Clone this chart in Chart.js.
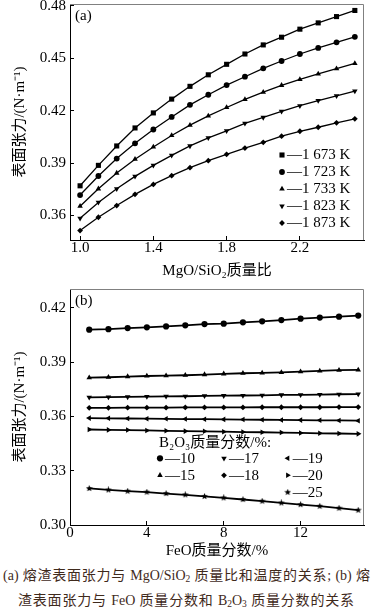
<!DOCTYPE html>
<html>
<head>
<meta charset="utf-8">
<script src="https://cdn.jsdelivr.net/npm/chart.js@4.4.1/dist/chart.umd.min.js"></script>
<style>
  html, body { margin: 0; padding: 0; background: #fff; }
  body { width: 376px; height: 609px; position: relative; overflow: hidden; }
  canvas { position: absolute; left: 0; }
  #chartA { top: 0; }
  #chartB { top: 280px; }
  .cap {
    position: absolute;
    font-family: "Liberation Serif", "Noto Sans CJK SC", serif;
    font-size: 14px;
    line-height: 18px;
    color: #3f2a1c;
    text-align: justify;
    text-align-last: justify;
  }
  .cap sub { font-size: 9.5px; vertical-align: -2px; line-height: 0; }
</style>
</head>
<body>
<canvas id="chartA" width="376" height="280"></canvas>
<canvas id="chartB" width="376" height="282"></canvas>
<div class="cap" style="left:3px; top:567px; width:367px;">(a) 熔渣表面张力与 MgO/SiO<sub>2</sub> 质量比和温度的关系; (b) 熔</div>
<div class="cap" style="left:18px; top:592px; width:336px;">渣表面张力与 FeO 质量分数和 B<sub>2</sub>O<sub>3</sub> 质量分数的关系</div>

<script>
// ---- chart (a): surface tension vs MgO/SiO2 ratio ----
const mgoRatio = [1.0, 1.1, 1.2, 1.3, 1.4, 1.5, 1.6, 1.7, 1.8, 1.9, 2.0, 2.1, 2.2, 2.3, 2.4, 2.5];
const tempLabels = ['1 673 K', '1 723 K', '1 733 K', '1 823 K', '1 873 K'];
const t1673 = [0.3770, 0.3887, 0.3998, 0.4101, 0.4187, 0.4266, 0.4339, 0.4405, 0.4465, 0.4524, 0.4576, 0.4620, 0.4666, 0.4702, 0.4738, 0.4773];
const t1723 = [0.3717, 0.3826, 0.3926, 0.4013, 0.4092, 0.4164, 0.4233, 0.4291, 0.4346, 0.4394, 0.4442, 0.4484, 0.4524, 0.4559, 0.4591, 0.4622];
const t1733 = [0.3653, 0.3753, 0.3843, 0.3922, 0.3992, 0.4058, 0.4117, 0.4170, 0.4218, 0.4264, 0.4306, 0.4345, 0.4379, 0.4410, 0.4440, 0.4470];
const t1823 = [0.3584, 0.3675, 0.3753, 0.3824, 0.3887, 0.3944, 0.3998, 0.4044, 0.4084, 0.4127, 0.4161, 0.4196, 0.4228, 0.4257, 0.4285, 0.4312];
const t1873 = [0.3514, 0.3590, 0.3657, 0.3721, 0.3778, 0.3828, 0.3874, 0.3914, 0.3950, 0.3986, 0.4019, 0.4054, 0.4082, 0.4105, 0.4130, 0.4153];
const ratioTicks = [1.0, 1.4, 1.8, 2.2];
const tensionTicksA = [0.36, 0.39, 0.42, 0.45, 0.48];

// ---- chart (b): surface tension vs FeO content ----
const feoContent = [1, 2, 3, 4, 5, 6, 7, 8, 9, 10, 11, 12, 13, 14, 15];
const b2o3Labels = ['10', '15', '17', '18', '19', '20', '25'];
const b10 = [0.4080, 0.4083, 0.4089, 0.4093, 0.4098, 0.4104, 0.4111, 0.4113, 0.4121, 0.4126, 0.4133, 0.4141, 0.4147, 0.4152, 0.4158];
const b15 = [0.3815, 0.3817, 0.3821, 0.3824, 0.3826, 0.3828, 0.3832, 0.3836, 0.3839, 0.3841, 0.3844, 0.3848, 0.3852, 0.3856, 0.3858];
const b17 = [0.3706, 0.3707, 0.3708, 0.3710, 0.3711, 0.3712, 0.3714, 0.3715, 0.3716, 0.3717, 0.3719, 0.3720, 0.3721, 0.3723, 0.3724];
const b18 = [0.3648, 0.3648, 0.3649, 0.3649, 0.3649, 0.3650, 0.3650, 0.3650, 0.3650, 0.3651, 0.3651, 0.3651, 0.3651, 0.3652, 0.3652];
const b19 = [0.3591, 0.3590, 0.3589, 0.3588, 0.3587, 0.3586, 0.3585, 0.3584, 0.3583, 0.3582, 0.3581, 0.3580, 0.3579, 0.3578, 0.3577];
const b20 = [0.3528, 0.3526, 0.3525, 0.3523, 0.3521, 0.3519, 0.3518, 0.3516, 0.3514, 0.3513, 0.3511, 0.3509, 0.3507, 0.3506, 0.3504];
const b25 = [0.3202, 0.3194, 0.3187, 0.3182, 0.3174, 0.3167, 0.3158, 0.3150, 0.3141, 0.3132, 0.3122, 0.3113, 0.3104, 0.3093, 0.3082];
const feoTicks = [0, 4, 8, 12];
const tensionTicksB = [0.30, 0.33, 0.36, 0.39, 0.42];

const FONT = '"Liberation Serif", "Noto Sans CJK SC", serif';
Chart.defaults.font.family = FONT;
Chart.defaults.font.size = 15;
Chart.defaults.color = '#000';

// small filled star used as a marker
function makeStar(size) {
  const c = document.createElement('canvas');
  c.width = size; c.height = size;
  const g = c.getContext('2d');
  const cx = size / 2, cy = size / 2, ro = size / 2, ri = ro * 0.45;
  g.beginPath();
  for (let i = 0; i < 10; i++) {
    const r = i % 2 ? ri : ro;
    const a = -Math.PI / 2 + i * Math.PI / 5;
    g.lineTo(cx + r * Math.cos(a), cy + r * Math.sin(a));
  }
  g.closePath();
  g.fillStyle = '#000';
  g.fill();
  return c;
}
const starMarker = makeStar(7);

function series(label, xs, ys, style, rotation, radius, width) {
  return {
    label: label,
    data: xs.map((x, i) => ({ x: x, y: ys[i] })),
    showLine: true,
    borderColor: '#000',
    backgroundColor: '#000',
    borderWidth: width,
    pointStyle: style,
    pointRotation: rotation,
    pointRadius: radius,
    pointBorderWidth: 0,
    pointBackgroundColor: '#000'
  };
}

// frame (top/right), panel letter and the inside legend
const decorPlugin = {
  id: 'decor',
  afterDatasetsDraw(chart, args, opts) {
    const ctx = chart.ctx;
    const a = chart.chartArea;
    ctx.save();
    ctx.strokeStyle = '#808080';
    ctx.lineWidth = 1;
    ctx.beginPath();
    ctx.moveTo(a.left, a.top + 0.5);
    ctx.lineTo(a.right - 0.5, a.top + 0.5);
    ctx.lineTo(a.right - 0.5, a.bottom);
    ctx.stroke();

    ctx.fillStyle = '#000';
    ctx.font = '15px ' + FONT;
    ctx.textBaseline = 'middle';
    ctx.textAlign = 'left';
    ctx.fillText(opts.panel, a.left + 5, a.top + 12);

    const lg = opts.legend;
    if (lg.title) {
      ctx.textAlign = 'center';
      ctx.fillText(lg.title, a.left + lg.titleX, a.top + lg.titleY);
      ctx.textAlign = 'left';
    }
    lg.columns.forEach((col, ci) => {
      col.forEach((di, ri) => {
        const ds = chart.data.datasets[di];
        const x = lg.fromRight ? a.right + lg.colX[ci] : a.left + lg.colX[ci];
        const y = lg.fromBottom ? a.bottom + lg.rowY + ri * lg.rowGap : a.top + lg.rowY + ri * lg.rowGap;
        Chart.helpers.drawPoint(ctx, {
          pointStyle: ds.pointStyle,
          rotation: ds.pointRotation,
          radius: ds.pointRadius,
          borderWidth: 0
        }, x, y);
        ctx.fillText('\u2014' + ds.label, x + 5, y + 0.5);
      });
    });
    ctx.restore();
  }
};

function tickGrid() {
  return { display: true, drawOnChartArea: false, drawTicks: true, tickLength: -4, color: '#000', lineWidth: 1 };
}

const chartA = new Chart(document.getElementById('chartA').getContext('2d'), {
  type: 'scatter',
  data: {
    datasets: [
      series(tempLabels[0], mgoRatio, t1673, 'rect', 0, 3.6, 1.3),
      series(tempLabels[1], mgoRatio, t1723, 'circle', 0, 2.9, 1.3),
      series(tempLabels[2], mgoRatio, t1733, 'triangle', 0, 3.2, 1.3),
      series(tempLabels[3], mgoRatio, t1823, 'triangle', 180, 3.2, 1.3),
      series(tempLabels[4], mgoRatio, t1873, 'rectRot', 0, 2.9, 1.3)
    ]
  },
  options: {
    responsive: false,
    animation: false,
    layout: { padding: { left: 0, right: 12, top: 0, bottom: 0 } },
    plugins: {
      legend: { display: false },
      tooltip: { enabled: false },
      decor: {
        panel: '(a)',
        legend: { columns: [[0, 1, 2, 3, 4]], colX: [-82], rowY: -85, rowGap: 17, fromRight: true, fromBottom: true }
      }
    },
    scales: {
      x: {
        type: 'linear', min: 0.945, max: 2.55,
        afterBuildTicks: s => { s.ticks = ratioTicks.map(v => ({ value: v })); },
        afterFit: s => { s.height = 40; },
        ticks: { padding: 3.5, maxRotation: 0, callback: v => v.toFixed(1) },
        grid: tickGrid(),
        border: { display: true, color: '#000', width: 1 },
        title: { display: true, text: 'MgO/SiO₂质量比', padding: { top: 0, bottom: 0 } }
      },
      y: {
        type: 'linear', min: 0.346, max: 0.481,
        afterBuildTicks: s => { s.ticks = tensionTicksA.map(v => ({ value: v })); },
        afterFit: s => { s.width = 70; s.paddingTop = 4; },
        ticks: { padding: 8, callback: v => v.toFixed(2) },
        grid: tickGrid(),
        border: { display: true, color: '#000', width: 1 },
        title: { display: true, text: '表面张力/(N·m⁻¹)', padding: { top: 11, bottom: 0 } }
      }
    }
  },
  plugins: [decorPlugin]
});

const chartB = new Chart(document.getElementById('chartB').getContext('2d'), {
  type: 'scatter',
  data: {
    datasets: [
      series(b2o3Labels[0], feoContent, b10, 'circle', 0, 3.1, 1.8),
      series(b2o3Labels[1], feoContent, b15, 'triangle', 0, 3.2, 1.8),
      series(b2o3Labels[2], feoContent, b17, 'triangle', 180, 3.2, 1.8),
      series(b2o3Labels[3], feoContent, b18, 'rectRot', 0, 2.9, 1.8),
      series(b2o3Labels[4], feoContent, b19, 'triangle', 270, 3.2, 1.8),
      series(b2o3Labels[5], feoContent, b20, 'triangle', 90, 3.2, 1.8),
      series(b2o3Labels[6], feoContent, b25, starMarker, 0, 3.5, 1.8)
    ]
  },
  options: {
    responsive: false,
    animation: false,
    layout: { padding: { left: 0, right: 12, top: 0, bottom: 0 } },
    plugins: {
      legend: { display: false },
      tooltip: { enabled: false },
      decor: {
        panel: '(b)',
        legend: {
          title: 'B₂O₃质量分数/%:', titleX: 145, titleY: 154,
          columns: [[0, 1], [2, 3], [4, 5, 6]], colX: [90, 154, 217.7], rowY: 169.3, rowGap: 17
        }
      }
    },
    scales: {
      x: {
        type: 'linear', min: 0, max: 15.3,
        afterBuildTicks: s => { s.ticks = feoTicks.map(v => ({ value: v })); },
        afterFit: s => { s.height = 37; },
        ticks: { padding: 3, maxRotation: 0, callback: v => String(v) },
        grid: tickGrid(),
        border: { display: true, color: '#000', width: 1 },
        title: { display: true, text: 'FeO质量分数/%', padding: { top: 0, bottom: 2 } }
      },
      y: {
        type: 'linear', min: 0.30, max: 0.4305,
        afterBuildTicks: s => { s.ticks = tensionTicksB.map(v => ({ value: v })); },
        afterFit: s => { s.width = 70; s.paddingTop = 9; },
        ticks: { padding: 8, callback: v => v.toFixed(2) },
        grid: tickGrid(),
        border: { display: true, color: '#000', width: 1 },
        title: { display: true, text: '表面张力/(N·m⁻¹)', padding: { top: 11, bottom: 0 } }
      }
    }
  },
  plugins: [decorPlugin]
});
</script>
</body>
</html>
